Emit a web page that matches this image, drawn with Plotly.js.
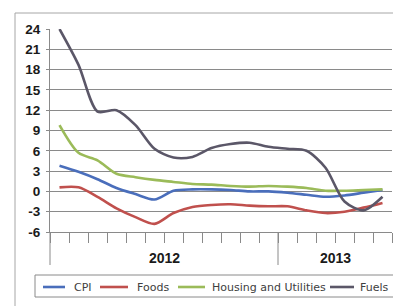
<!DOCTYPE html>
<html>
<head>
<meta charset="utf-8">
<script src="https://cdn.plot.ly/plotly-3.0.1.min.js"></script>
<style>html,body{margin:0;padding:0;background:#fff;}#chart{width:393px;height:306px;}</style>
</head>
<body>
<div id="chart"></div>
<script>
// Categories: monthly, Jan 2012 – Jun 2013
const months = ['Jan 2012','Feb 2012','Mar 2012','Apr 2012','May 2012','Jun 2012','Jul 2012','Aug 2012','Sep 2012','Oct 2012','Nov 2012','Dec 2012',
                'Jan 2013','Feb 2013','Mar 2013','Apr 2013','May 2013','Jun 2013'];
const years = ['2012','2013'];
const seriesNames = ['CPI','Foods','Housing and Utilities','Fuels'];
// Series values (% change)
const cpi     = [3.8, 2.9, 1.8, 0.5, -0.4, -1.2, 0.1, 0.3, 0.3, 0.2, 0.0, 0.0, -0.2, -0.5, -0.8, -0.6, -0.2, 0.2];
const foods   = [0.6, 0.6, -0.8, -2.5, -3.8, -4.8, -3.2, -2.3, -2.0, -1.9, -2.1, -2.2, -2.2, -2.8, -3.2, -3.0, -2.4, -1.7];
const housing = [9.8, 5.7, 4.6, 2.6, 2.1, 1.7, 1.4, 1.1, 1.0, 0.8, 0.7, 0.8, 0.7, 0.5, 0.1, 0.1, 0.2, 0.3];
const fuels   = [24.0, 18.7, 11.8, 12.0, 9.8, 6.3, 5.0, 5.1, 6.4, 7.0, 7.2, 6.6, 6.3, 6.0, 3.5, -1.5, -2.8, -0.8];
const yTicks  = [-6, -3, 0, 3, 6, 9, 12, 15, 18, 21, 24];

const colors = ['#4a6ebb', '#c0504d', '#9bbb59', '#5b5768'];
const values = [cpi, foods, housing, fuels];

// pixel helpers for decoration placement (plot area: x 50..392, y 29..232)
const L = 50, W = 342, B = 232, H = 203;
const px = x => (x - L) / W;
const py = y => (B - y) / H;

const traces = values.map((v, i) => ({
  type: 'scatter', mode: 'lines', name: seriesNames[i],
  x: months, y: v,
  line: {color: colors[i], width: 2.6, shape: 'spline', smoothing: 0.8},
  showlegend: false, hoverinfo: 'skip'
}));

const grid = '#8a8a8a';
const shapes = [
  // chart border
  {type: 'rect', xref: 'paper', yref: 'paper', x0: px(15), x1: px(420), y0: py(330), y1: py(13),
   line: {color: '#a6a6a6', width: 1}, fillcolor: 'rgba(0,0,0,0)', layer: 'below'},
  // y axis extension through category label area
  {type: 'line', xref: 'paper', yref: 'paper', x0: 0, x1: 0, y0: py(265), y1: 0, line: {color: grid, width: 1}},
  // legend box
  {type: 'rect', xref: 'paper', yref: 'paper', x0: px(35), x1: px(420), y0: py(297), y1: py(275),
   line: {color: '#8a8a8a', width: 1}, fillcolor: 'rgba(0,0,0,0)'}
];
// year separators between groups
const annotations = [];
let start = 0;
years.forEach((yr, k) => {
  const n = months.filter(m => m.endsWith(yr)).length;
  const end = start + n - 1;
  annotations.push({xref: 'x', yref: 'paper', x: (start + end) / 2, y: py(258), text: yr, showarrow: false,
    xanchor: 'center', yanchor: 'middle', font: {family: 'Liberation Sans, Arial', size: 14, color: '#1a1a1a', weight: 'bold'}});
  if (k < years.length - 1) {
    shapes.push({type: 'line', xref: 'x', yref: 'paper', x0: end + 0.5, x1: end + 0.5, y0: py(265), y1: 0, line: {color: grid, width: 1}});
  }
  start = end + 1;
});
// legend
const legX = [[43, 65, 72], [100, 128, 135], [178, 205, 210], [330, 354, 358]];
seriesNames.forEach((nm, i) => {
  shapes.push({type: 'line', xref: 'paper', yref: 'paper', x0: px(legX[i][0]), x1: px(legX[i][1]), y0: py(287), y1: py(287),
    line: {color: colors[i], width: 2.6}});
  annotations.push({xref: 'paper', yref: 'paper', x: px(legX[i][2]), y: py(287), text: nm, showarrow: false,
    xanchor: 'left', yanchor: 'middle', font: {family: 'DejaVu Sans', size: 11, color: '#404040'}});
});

const layout = {
  width: 393, height: 306,
  margin: {l: L, r: 1, t: 29, b: 74},
  paper_bgcolor: '#ffffff', plot_bgcolor: '#ffffff',
  showlegend: false,
  xaxis: {
    type: 'category', range: [-0.5, months.length - 0.5],
    showgrid: false, showline: true, linecolor: grid, linewidth: 1,
    ticks: 'outside', tickson: 'boundaries', ticklen: 10, tickcolor: grid, tickwidth: 1,
    showticklabels: false, fixedrange: true
  },
  yaxis: {
    range: [-6, 24], tickvals: yTicks, ticktext: yTicks.map(String),
    showgrid: true, gridcolor: grid, gridwidth: 1, zeroline: false,
    showline: true, linecolor: grid, linewidth: 1,
    ticks: 'outside', ticklen: 3, tickcolor: grid, ticklabelstandoff: 3,
    tickfont: {family: 'Liberation Sans, Arial', size: 13.5, color: '#1a1a1a', weight: 'bold'},
    fixedrange: true
  },
  shapes: shapes,
  annotations: annotations
};

Plotly.newPlot('chart', traces, layout, {displayModeBar: false, staticPlot: true});
</script>
</body>
</html>
